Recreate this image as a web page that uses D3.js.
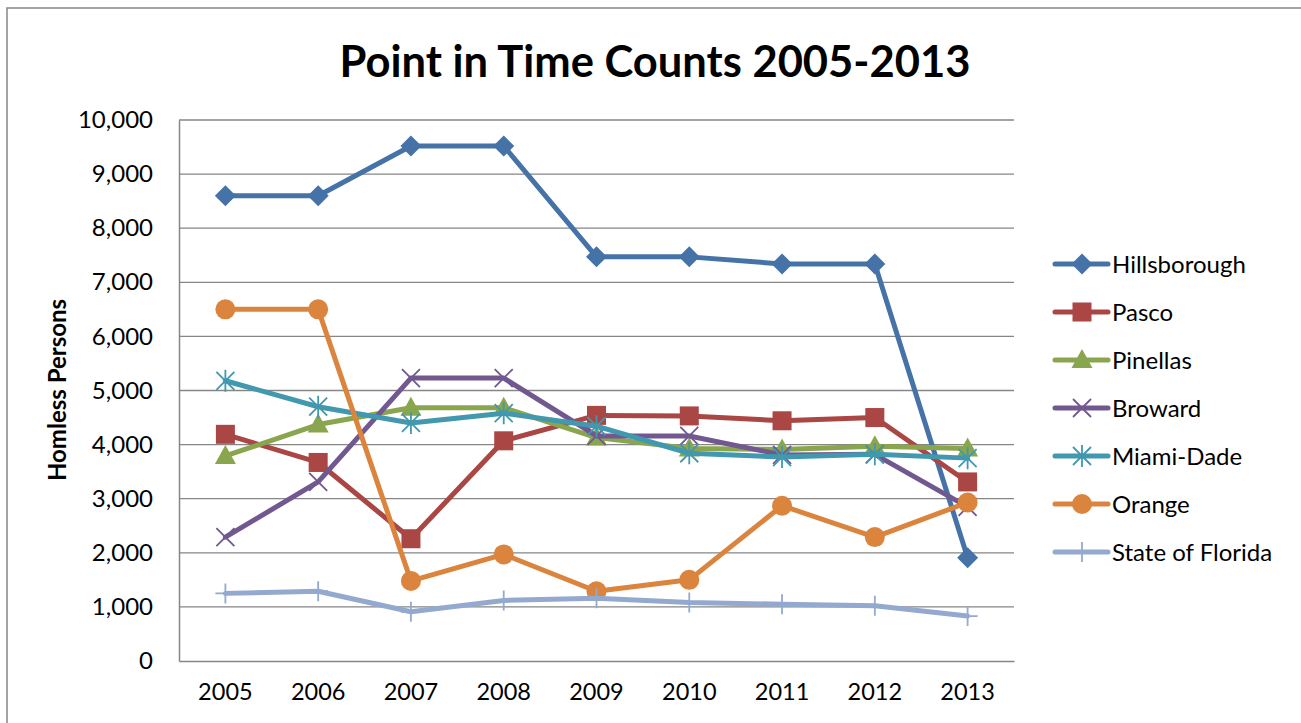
<!DOCTYPE html>
<html>
<head>
<meta charset="utf-8">
<script src="https://cdn.jsdelivr.net/npm/d3@7"></script>
<style>
  body { margin: 0; background: #fff; }
  svg { display: block; font-family: Lato, "Open Sans", sans-serif; }
</style>
</head>
<body>
<div id="chart"></div>
<script>
// data
const years = ["2005", "2006", "2007", "2008", "2009", "2010", "2011", "2012", "2013"]
const hillsborough = [8600, 8600, 9520, 9520, 7470, 7470, 7340, 7340, 1910]
const pasco = [4190, 3670, 2260, 4070, 4540, 4530, 4440, 4500, 3310]
const pinellas = [3790, 4370, 4680, 4680, 4130, 3930, 3910, 3970, 3930]
const broward = [2290, 3310, 5230, 5230, 4160, 4160, 3810, 3820, 2850]
const miamiDade = [5180, 4700, 4400, 4580, 4340, 3840, 3770, 3820, 3750]
const orange = [6500, 6500, 1480, 1970, 1290, 1500, 2870, 2290, 2930]
const stateOfFlorida = [1250, 1290, 910, 1120, 1160, 1080, 1050, 1020, 830]
const yTicks = [0, 1000, 2000, 3000, 4000, 5000, 6000, 7000, 8000, 9000, 10000]

const series = [
  { name: "Hillsborough", values: hillsborough, color: "#4572A7", marker: "diamond" },
  { name: "Pasco", values: pasco, color: "#AA4643", marker: "square" },
  { name: "Pinellas", values: pinellas, color: "#89A54E", marker: "triangle" },
  { name: "Broward", values: broward, color: "#71588F", marker: "x" },
  { name: "Miami-Dade", values: miamiDade, color: "#4198AF", marker: "star" },
  { name: "Orange", values: orange, color: "#DB843D", marker: "circle" },
  { name: "State of Florida", values: stateOfFlorida, color: "#93A9CF", marker: "plus" }
]

const W = 1301, H = 723
const plot = { left: 179, top: 120, right: 1014, bottom: 661 }

const svg = d3.select("#chart").append("svg")
    .attr("width", W)
    .attr("height", H)

// outer chart border (cropped at right and bottom)
svg.append("path")
    .attr("d", "M7,740 V8 H1320")
    .attr("fill", "none")
    .attr("stroke", "#868686")
    .attr("stroke-width", 1.5)

svg.append("text")
    .attr("x", 655)
    .attr("y", 77)
    .attr("text-anchor", "middle")
    .attr("font-size", 43.5)
    .attr("font-weight", "bold")
    .attr("fill", "#000")
    .text("Point in Time Counts 2005-2013")

const x = d3.scaleBand().domain(years).range([plot.left, plot.right])
const y = d3.scaleLinear().domain([0, 10000]).range([plot.bottom, plot.top])

// gridlines
svg.append("g")
    .selectAll("line")
    .data(yTicks.filter(d => d > 0))
    .join("line")
    .attr("x1", plot.left)
    .attr("x2", plot.right)
    .attr("y1", d => y(d))
    .attr("y2", d => y(d))
    .attr("stroke", "#868686")
    .attr("stroke-width", 1.3)

// y axis
const yAxis = svg.append("g")
    .attr("transform", `translate(${plot.left},0)`)
    .call(d3.axisLeft(y).tickValues(yTicks).tickFormat(d3.format(",")).tickSize(0).tickPadding(26))
yAxis.select(".domain").attr("stroke", "#868686").attr("stroke-width", 1.5)
yAxis.selectAll("text").attr("font-size", 24).attr("fill", "#000").attr("font-family", "Lato")

// x axis
const xAxis = svg.append("g")
    .attr("transform", `translate(0,${plot.bottom})`)
    .call(d3.axisBottom(x).tickSize(0).tickPadding(22))
xAxis.select(".domain").attr("stroke", "#868686").attr("stroke-width", 1.5)
xAxis.selectAll("text").attr("font-size", 23.5).attr("fill", "#000").attr("font-family", "Lato")

svg.append("text")
    .attr("transform", "translate(66,390) rotate(-90)")
    .attr("text-anchor", "middle")
    .attr("font-size", 24)
    .attr("font-weight", "bold")
    .attr("fill", "#000")
    .text("Homless Persons")

function drawMarker(g, type, color) {
  if (type === "diamond") {
    g.append("path").attr("d", "M0,-10.5 L10.5,0 L0,10.5 L-10.5,0 Z").attr("fill", color)
  } else if (type === "square") {
    g.append("rect").attr("x", -9.5).attr("y", -9.5).attr("width", 19).attr("height", 19).attr("fill", color)
  } else if (type === "triangle") {
    g.append("path").attr("d", "M0,-11 L10.5,8 L-10.5,8 Z").attr("fill", color)
  } else if (type === "circle") {
    g.append("circle").attr("r", 10).attr("fill", color)
  } else if (type === "x") {
    g.append("path").attr("d", "M-9,-9 L9,9 M-9,9 L9,-9")
        .attr("stroke", color).attr("stroke-width", 1.8).attr("fill", "none")
  } else if (type === "star") {
    g.append("path").attr("d", "M-9,-9 L9,9 M-9,9 L9,-9 M0,-11 V11")
        .attr("stroke", color).attr("stroke-width", 1.8).attr("fill", "none")
  } else if (type === "plus") {
    g.append("path").attr("d", "M0,-10 V10 M-10,0 H10")
        .attr("stroke", color).attr("stroke-width", 1.8).attr("fill", "none")
  }
}

const line = d3.line()
    .x((d, i) => x(years[i]) + x.bandwidth() / 2)
    .y(d => y(d))

const seriesG = svg.append("g")
series.forEach(s => {
  const g = seriesG.append("g")
  g.append("path")
      .datum(s.values)
      .attr("fill", "none")
      .attr("stroke", s.color)
      .attr("stroke-width", 5)
      .attr("stroke-linejoin", "round")
      .attr("stroke-linecap", "round")
      .attr("d", line)
  s.values.forEach((v, i) => {
    const m = g.append("g")
        .attr("transform", `translate(${x(years[i]) + x.bandwidth() / 2},${y(v)})`)
    drawMarker(m, s.marker, s.color)
  })
})

// legend
const legend = svg.append("g").attr("transform", "translate(1055,264)")
series.forEach((s, i) => {
  const g = legend.append("g").attr("transform", `translate(0,${i * 48})`)
  g.append("line")
      .attr("x1", 0).attr("x2", 53)
      .attr("stroke", s.color)
      .attr("stroke-width", 5)
      .attr("stroke-linecap", "round")
  const m = g.append("g").attr("transform", "translate(27,0)")
  drawMarker(m, s.marker, s.color)
  g.append("text")
      .attr("x", 57)
      .attr("y", 8.5)
      .attr("font-size", 24)
      .attr("fill", "#000")
      .text(s.name)
})
</script>
</body>
</html>
